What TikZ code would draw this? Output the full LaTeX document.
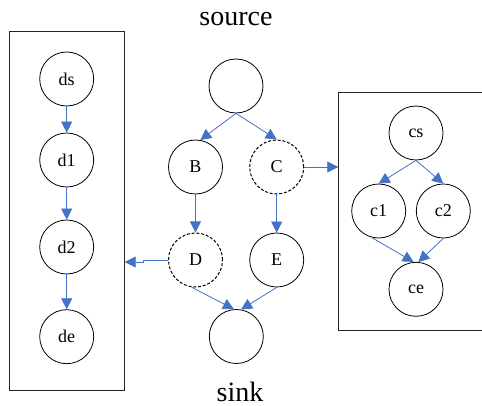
\documentclass[tikz,border=0pt]{standalone}
\usepackage{fontspec}
\setmainfont{Liberation Serif}
\usetikzlibrary{arrows.meta}
\definecolor{arrowblue}{HTML}{4472C4}
\tikzset{
  vtx/.style={circle, draw=black, line width=0.8pt, minimum size=54pt, inner sep=0pt, font=\fontsize{18}{20}\selectfont},
  dvtx/.style={vtx, line width=1pt, dash pattern=on 3pt off 1.8pt},
  arr/.style={draw=arrowblue, line width=0.8pt, -{Triangle[length=11pt,width=11pt]}, arrowblue},
  frame/.style={draw=black!85, line width=0.9pt},
  title/.style={font=\fontsize{28}{30}\selectfont, inner sep=0pt}
}
\begin{document}
\begin{tikzpicture}[x=1pt,y=-1pt]
\useasboundingbox (0,0) rectangle (482,406);
% frames
\draw[frame] (9.3,31.7) rectangle (124.7,390.7);
\draw[frame] (338.3,92.7) rectangle (490,330);
\coordinate (lbox) at (124.7,262);
\coordinate (rbox) at (338.3,167);
% titles
\node[title] (srct) at (236,19) {source};
\node[title] (sinkt) at (240,391.5) {sink};
% main graph
\node[vtx] (src) at (236,86) {};
\node[vtx] (B) at (195.5,167) {B};
\node[dvtx] (C) at (276.7,167) {C};
\node[dvtx] (D) at (195.5,260) {D};
\node[vtx] (E) at (276.7,260) {E};
\node[vtx] (snk) at (236.3,336.5) {};
% left chain
\node[vtx] (ds) at (66.7,79) {ds};
\node[vtx] (d1) at (66.7,160) {d1};
\node[vtx] (d2) at (66.7,247) {d2};
\node[vtx] (de) at (66.7,336.7) {de};
% right graph
\node[vtx] (cs) at (416,133) {cs};
\node[vtx] (c1) at (378.7,211) {c1};
\node[vtx] (c2) at (443.3,211) {c2};
\node[vtx] (ce) at (416,289.3) {ce};
% arrows
\draw[arr] (src.south) -- (B.80);
\draw[arr] (src.south) -- (C.north);
\draw[arr] (B.south) -- (D.north);
\draw[arr] (C.south) -- (E.north);
\draw[arr] (D.-98) -- (snk.95);
\draw[arr] (E.south) -- (snk.80);
\draw[arr] (C.east) -- (rbox);
\draw[arr] (D.west) -- (143,260) -- (143,262) -- (lbox);
\draw[arr] (ds.south) -- (d1.north);
\draw[arr] (d1.south) -- (d2.north);
\draw[arr] (d2.south) -- (de.north);
\draw[arr] (cs.south) -- (c1.north);
\draw[arr] (cs.south) -- (c2.north);
\draw[arr] (c1.-105) -- (ce.95);
\draw[arr] (c2.south) -- (ce.85);
\end{tikzpicture}
\end{document}
